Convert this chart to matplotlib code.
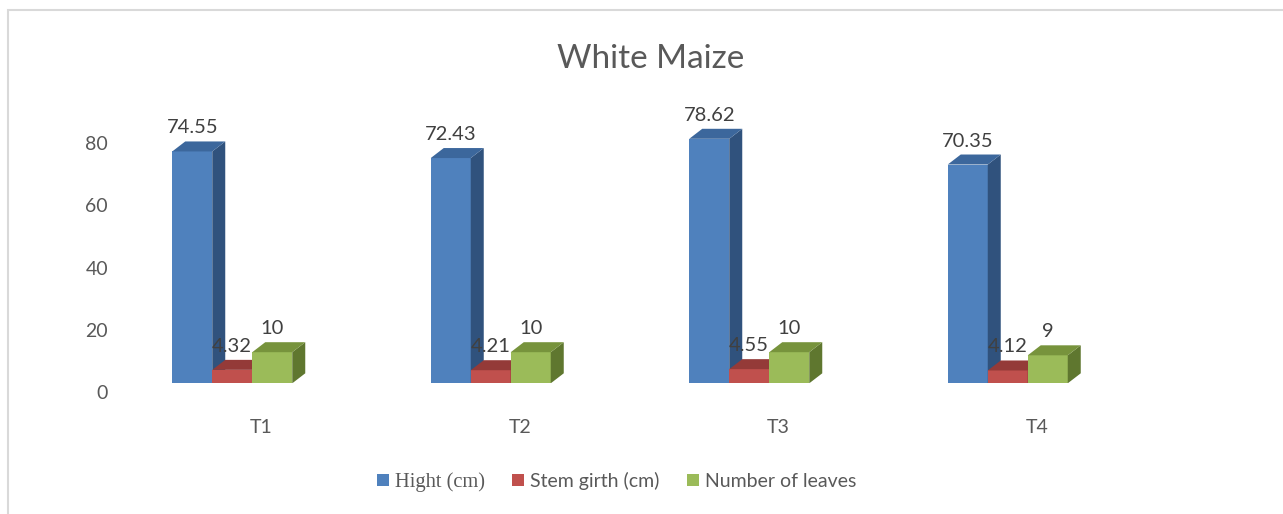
import matplotlib
matplotlib.use("Agg")
import matplotlib.pyplot as plt
from matplotlib.patches import Polygon, Rectangle, Patch
from matplotlib.transforms import ScaledTranslation

# ---- data ----
categories = ["T1", "T2", "T3", "T4"]
series_names = ["Hight (cm)", "Stem girth (cm)", "Number of leaves"]
hight = [74.55, 72.43, 78.62, 70.35]
stem_girth = [4.32, 4.21, 4.55, 4.12]
leaves = [10, 10, 10, 9]
y_ticks = [0, 20, 40, 60, 80]
title = "White Maize"

# ---- style ----
front_colors = ["#4F81BD", "#C0504D", "#9BBB59"]
top_colors = ["#3C679C", "#943A38", "#77933C"]
side_colors = ["#30527D", "#7A2F2D", "#5F772F"]
text_color = "#595959"
label_color = "#404040"

plt.rcParams['font.family'] = ['Lato', 'DejaVu Sans']

W, H = 1283, 514
fig = plt.figure(figsize=(W / 100, H / 100), dpi=100)

ax_left, ax_right = 103, 1137
ax_bottom_px = 383.3
px_per_unit = 3.11
ymax = 90
ax = fig.add_axes([ax_left / W, (H - ax_bottom_px) / H,
                   (ax_right - ax_left) / W, ymax * px_per_unit / H])
ax.set_xlim(-0.5, len(categories) - 0.5)
ax.set_ylim(0, ymax)
for s in ax.spines.values():
    s.set_visible(False)
ax.patch.set_alpha(0)

px_per_cat = (ax_right - ax_left) / len(categories)
bar_w = 40 / px_per_cat
dx = 13 / px_per_cat
dy = 10 / px_per_unit

series = [hight, stem_girth, leaves]
z = 2
for i, cat in enumerate(categories):
    for j, vals in enumerate(series):
        v = vals[i]
        x0 = i + (j - 1) * bar_w - bar_w / 2
        x1 = x0 + bar_w
        ax.bar(x0, v, width=bar_w, align='edge', color=front_colors[j],
               zorder=z, linewidth=0)
        ax.add_patch(Polygon([(x1, 0), (x1 + dx, dy), (x1 + dx, v + dy), (x1, v)],
                             closed=True, facecolor=side_colors[j], lw=0, zorder=z))
        ax.add_patch(Polygon([(x0, v), (x1, v), (x1 + dx, v + dy), (x0 + dx, v + dy)],
                             closed=True, facecolor=top_colors[j], lw=0, zorder=z))
        z += 1
        lab = f"{v:g}" if isinstance(v, int) else f"{v:.2f}"
        ax.annotate(lab, xy=((x0 + x1) / 2, v + dy), xytext=(0, 8),
                    textcoords='offset pixels', ha='center', va='baseline',
                    fontsize=14.5, color=label_color, zorder=100)

ax.set_yticks(y_ticks)
ax.set_xticks(range(len(categories)), categories)
ax.tick_params(axis='y', length=0, pad=0, labelsize=14, labelcolor=text_color)
ax.tick_params(axis='x', length=0, pad=26, labelsize=14, labelcolor=text_color)
for lbl in ax.get_yticklabels():
    lbl.set_transform(lbl.get_transform() + ScaledTranslation(5 / 100, -8.7 / 100, fig.dpi_scale_trans))
for lbl in ax.get_xticklabels():
    lbl.set_transform(lbl.get_transform() + ScaledTranslation(29 / 100, 0, fig.dpi_scale_trans))

fig.text(650.5 / W, (H - 68) / H, title, ha='center', va='baseline',
         fontsize=24, color=text_color)

handles = [Patch(facecolor=c, lw=0) for c in front_colors]
leg = fig.legend(handles, series_names, loc='center', bbox_to_anchor=(616.5 / W, (H - 482) / H),
                 ncol=3, frameon=False, fontsize=14, handlelength=0.62, handleheight=0.62,
                 handletextpad=0.3, columnspacing=1.4, labelcolor=text_color)
leg.get_texts()[0].set_fontfamily(['Liberation Serif', 'DejaVu Serif'])
leg.get_texts()[0].set_fontsize(14.8)

fig.patches.append(Rectangle((8 / W, -0.2), 1.5, (H - 10) / H + 0.2, transform=fig.transFigure,
                             fill=False, edgecolor='#D9D9D9', lw=1.5, figure=fig))

fig.savefig("out.png", dpi=100)
